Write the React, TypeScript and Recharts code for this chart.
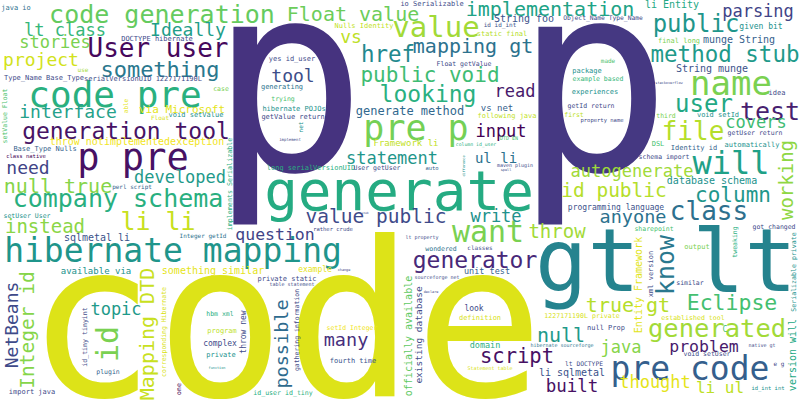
import { ScatterChart, Scatter, XAxis, YAxis } from 'recharts'

// word cloud: [text, x, y, weight(font px), colour]
// horizontal words: x = centre, y = baseline
type Word = [string, number, number, number, string]

const giantWords: Word[] = [
  ['code', 285, 396, 215, '#dde318'],
  ['p', 288, 170, 262, '#46337f'],
  ['p', 593, 170, 262, '#453882'],
  ['gt lt', 666, 291, 87, '#25838e'],
  ['generate', 399, 210, 56, '#25ab82'],
]

const largeWords: Word[] = [
  ['hibernate mapping', 173, 262, 33, '#1f958b'],
  ['code pre', 115, 107, 36, '#2ab07f'],
  ['p pre', 133, 170, 37, '#471164'],
  ['pre p', 416, 140, 35, '#74d055'],
  ['pre code', 690, 380, 33, '#355f8d'],
  ['name', 731, 95, 34, '#7ad151'],
  ['will', 731, 174, 32, '#1fa187'],
  ['want', 488, 242, 30, '#7ad151'],
  ['value', 436, 37, 29, '#a2da37'],
  ['User user', 158, 57, 26, '#46085c'],
  ['class', 709, 220, 26, '#2d708e'],
  ['file', 693, 140, 26, '#b5de2b'],
  ['generated', 717, 337, 25.5, '#a2da37'],
  ['company schema', 118, 207, 25, '#29af7f'],
  ['code generation', 162, 23, 25, '#65cb5e'],
  ['li li', 158, 230, 25, '#c8e020'],
  ['test', 770, 120, 25, '#481f70'],
]

const mediumWords: Word[] = [
  ['public', 696, 32, 24, '#1f968b'],
  ['user', 704, 112, 24, '#22a884'],
  ['looking', 428, 102, 23, '#2ab07f'],
  ['generator', 475, 268, 23, '#482878'],
  ['method stub', 725, 62, 22.5, '#1f9a8a'],
  ['href', 388, 62, 22.5, '#23898e'],
  ['generation tool', 126, 139, 23, '#471365'],
  ['something', 160, 77, 22, '#2a788e'],
  ['Eclipse', 732, 310, 21.5, '#44bf70'],
  ['public void', 430, 82, 21, '#3fbc73'],
  ['column', 733, 202, 21, '#1f978b'],
  ['Float value', 353, 21, 20, '#6ccd5a'],
  ['implementation', 550, 16, 20, '#20a386'],
  ['mapping gt', 473, 53, 20, '#2c728e'],
  ['null true', 58, 193, 20, '#86d549'],
  ['null', 561, 342, 20, '#1f9a8a'],
  ['script', 517, 363, 20.5, '#471164'],
  ['true gt', 628, 312, 20, '#b5de2b'],
  ['id public', 614, 197, 19.5, '#b5de2b'],
  ['value public', 376, 223, 19.5, '#3e4a89'],
  ['instead', 45, 233, 19, '#8bd646'],
  ['throw', 557, 238, 19, '#a2da37'],
  ['Ideally', 188, 36, 18, '#1f9e89'],
  ['project', 41, 66, 18, '#d2e21b'],
  ['interface', 68, 118, 18, '#25a18a'],
  ['vs', 351, 43, 18, '#bddf26'],
  ['tool', 293, 82, 18, '#3d4e8a'],
  ['anyone', 633, 223, 18.5, '#2c728e'],
  ['many', 346, 346, 18.5, '#472f7d'],
  ['need', 28, 174, 18, '#414487'],
  ['lt class', 65, 36, 17, '#35b779'],
  ['stories', 55, 48, 17, '#7ad151'],
  ['read', 515, 97, 17, '#481a6c'],
  ['input', 501, 137, 17, '#440154'],
  ['developed', 180, 183, 17, '#1f9a8a'],
  ['statement', 392, 164, 17, '#1f968b'],
  ['autogenerate', 632, 177, 17, '#9fda3a'],
  ['write', 496, 222, 17, '#21918c'],
  ['topic', 116, 315, 17, '#1f9a8a'],
  ['covers', 756, 128, 17, '#3fbc73'],
  ['parsing', 758, 17, 17, '#414487'],
  ['java', 621, 353, 17, '#86d549'],
  ['problem', 704, 352, 16.5, '#481a6c'],
  ['thought', 655, 388, 17, '#e5e419'],
  ['li ul', 720, 393, 16, '#bddf26'],
  ['built', 572, 392, 17.5, '#471164'],
  ['question', 275, 240, 16.5, '#414487'],
  ['ul li', 496, 163, 14, '#2c728e'],
]

const smallWords: Word[] = [
  ['generate method', 410, 115, 12, '#31688e'],
  ['via Microsoft', 182, 113, 11, '#e5e419'],
  ['String foo', 524, 22, 10, '#3b528b'],
  ['li Entity', 672, 8, 10, '#22a884'],
  ['munge String', 739, 43, 10, '#355f8d'],
  ['String munge', 712, 72, 10, '#3b528b'],
  ['throw notimplementedexception', 137, 145, 10, '#f1e51d'],
  ['sqlmetal li', 97, 241, 10, '#3b528b'],
  ['database schema', 712, 184, 10, '#21918c'],
  ['something similar', 213, 274, 10, '#e5e419'],
  ['li sqlmetal', 572, 376, 10, '#3b528b'],
  ['vs net', 497, 111, 9, '#355f8d'],
  ['Framework li', 406, 146, 9, '#c2df23'],
  ['available via', 96, 274, 9, '#21918c'],
  ['unit test', 487, 274, 8.5, '#355f8d'],
  ['domain', 485, 348, 8.5, '#29af7f'],
  ['given bit', 761, 29, 8, '#21918c'],
  ['programming language', 616, 210, 8, '#3b528b'],
  ['example', 315, 272, 8, '#e5e419'],
  ['complex', 220, 346, 8, '#3e4a89'],
  ['look', 474, 311, 8, '#3e4a89'],
  ['C', 725, 332, 8, '#44bf70'],
]

const tinyWords: Word[] = [
  ['java io', 16, 10, 7, '#2c728e'],
  ['DOCTYPE hibernate', 157, 41, 7, '#3e4a89'],
  ['use', 83, 72, 6, '#a2da37'],
  ['Type_Name Base_Type', 44, 80, 7, '#3e4a89'],
  ['serialVersionUID 1227171190L', 143, 81, 7, '#3e4a89'],
  ['Float', 160, 120, 6, '#d8e219'],
  ['void setValue', 196, 117, 7, '#21918c'],
  ['Nulls Identity', 364, 28, 7, '#c2df23'],
  ['yes id_user', 292, 61, 7, '#3e4a89'],
  ['case', 221, 91, 6.5, '#7ad151'],
  ['generating', 282, 89, 7, '#2c728e'],
  ['trying', 283, 101, 6.5, '#4ac16d'],
  ['hibernate POJOs', 294, 111, 7, '#21918c'],
  ['getValue return', 293, 119, 7, '#3e4a89'],
  ['io Serializable', 432, 6, 7, '#3e4a89'],
  ['Object_Name Type_Name', 603, 20, 6.3, '#3e4a89'],
  ['id id_int', 500, 27, 6, '#3b528b'],
  ['static final', 502, 36, 7, '#b5de2b'],
  ['Float getValue', 464, 66, 6.5, '#3e4a89'],
  ['package', 587, 73, 7, '#21918c'],
  ['example based', 598, 81, 6.5, '#35b779'],
  ['experiences', 595, 94, 7, '#21918c'],
  ['getId return', 591, 108, 6.5, '#3e4a89'],
  ['following java', 507, 118, 7, '#c2df23'],
  ['first', 574, 117, 6.5, '#bddf26'],
  ['property name', 602, 122, 5.5, '#3e4a89'],
  ['final long', 679, 43, 7, '#7ad151'],
  ['made', 608, 63, 6, '#4ac16d'],
  ['stackoverflow', 669, 84, 3.5, '#3e4a89'],
  ['idea', 777, 95, 7, '#3e4a89'],
  ['third', 666, 118, 6.5, '#7ad151'],
  ['void setId', 718, 117, 7, '#21918c'],
  ['getUser return', 755, 135, 6.5, '#3e4a89'],
  ['Base_Type Nulls', 45, 151, 7, '#355f8d'],
  ['class native', 26, 158, 5.5, '#440154'],
  ['perl script', 132, 189, 6, '#355f8d'],
  ['setUser User', 27, 218, 6.5, '#21918c'],
  ['Integer getId', 203, 238, 6, '#2c728e'],
  ['implement', 290, 141, 4, '#3e4a89'],
  ['long serialVersionUID', 311, 170, 7, '#29af7f'],
  ['User getUser', 377, 170, 6.5, '#3e4a89'],
  ['rather crude', 333, 231, 5.5, '#3e4a89'],
  ['stub', 365, 214, 3, '#3e4a89'],
  ['DTD EN', 509, 140, 5, '#44bf70'],
  ['column id_user', 476, 146, 4.8, '#29af7f'],
  ['maven plugin', 515, 167, 5, '#3e4a89'],
  ['auto', 432, 170, 5.5, '#355f8d'],
  ['spell', 506, 171, 3.5, '#3e4a89'],
  ['lt property', 422, 239, 5, '#3e4a89'],
  ['wondered', 441, 251, 6.5, '#2c728e'],
  ['classes', 480, 250, 6, '#3e4a89'],
  ['DSL', 658, 146, 7, '#44bf70'],
  ['Identity id', 694, 150, 7, '#355f8d'],
  ['automatically', 752, 147, 7, '#21918c'],
  ['schema import', 664, 159, 6.5, '#3e4a89'],
  ['sharepoint', 654, 231, 6.5, '#44bf70'],
  ['got changed', 774, 229, 6.5, '#3e4a89'],
  ['output', 697, 249, 7, '#7ad151'],
  ['plugin', 108, 374, 6.5, '#355f8d'],
  ['import java', 32, 394, 7, '#3e4a89'],
  ['change', 344, 271, 3.5, '#3e4a89'],
  ['private static', 287, 281, 7, '#3e4a89'],
  ['table statement', 292, 286, 5, '#3e4a89'],
  ['hbm xml', 220, 316, 6.5, '#29af7f'],
  ['program', 222, 333, 7, '#bddf26'],
  ['private', 221, 357, 7, '#21918c'],
  ['function', 217, 369, 3.5, '#21918c'],
  ['setId Integer', 352, 330, 6.5, '#f1e51d'],
  ['fourth time', 353, 363, 7, '#3b528b'],
  ['id_user id_tiny', 283, 395, 6.6, '#29af7f'],
  ['sourceforge net', 437, 279, 5, '#3e4a89'],
  ['declare', 431, 293, 3.5, '#3e4a89'],
  ['definition', 480, 320, 7, '#d8e219'],
  ['1227171190L private', 582, 318, 6.6, '#d8e219'],
  ['hibernate sourceforge', 562, 347, 5, '#2c728e'],
  ['lt DOCTYPE', 584, 366, 6.3, '#3e4a89'],
  ['Statement table', 490, 370, 5, '#d8e219'],
  ['null Prop', 606, 330, 7, '#3e4a89'],
  ['similar', 690, 285, 6.5, '#3e4a89'],
  ['established tool', 693, 320, 6.6, '#d8e219'],
  ['native gt', 762, 347, 5, '#3e4a89'],
  ['void setUser', 707, 356, 6.5, '#3e4a89'],
  ['e g', 779, 366, 6, '#3e4a89'],
  ['id_int int', 768, 390, 5.5, '#21918c'],
]

// vertical words (read bottom to top): x = baseline, y = centre
const verticalWords: Word[] = [
  ['setValue Float', 7, 116, 6.5, '#4ac16d'],
  ['able', 128, 106, 6, '#e5e419'],
  ['net', 303, 127, 6, '#21918c'],
  ['implements Serializable', 232, 184, 6.7, '#29af7f'],
  ['difference', 465, 166, 3.5, '#21918c'],
  ['working', 793, 180, 19, '#8fd744'],
  ['tweaking', 737, 242, 6.5, '#29af7f'],
  ['Serializable private', 796, 272, 6.6, '#21918c'],
  ['Entity Framework', 642, 285, 10, '#e2e418'],
  ['know', 674, 265, 25, '#2a788e'],
  ['xml version', 653, 274, 7, '#3e4a89'],
  ['NetBeans', 18, 325, 18, '#3e4a89'],
  ['Integer id', 34, 330, 19.5, '#86d549'],
  ['id', 118, 344, 30, '#7ad151'],
  ['Mapping DTD', 154, 334, 20, '#c8e020'],
  ['corresponding Hibernate', 166, 332, 6.5, '#d8e219'],
  ['id_tiny tinyint', 87, 337, 6.6, '#3e4a89'],
  ['one', 181, 389, 6.5, '#440154'],
  ['throw new', 246, 332, 8, '#3e4a89'],
  ['possible', 288, 344, 18.5, '#2f6b8e'],
  ['gathering information', 299, 330, 6.5, '#3e4a89'],
  ['officially available', 412, 336, 10, '#5ec962'],
  ['existing database', 422, 335, 9.5, '#3e4a89'],
  ['version will', 796, 355, 10, '#22a884'],
]

const toRows = (list: Word[], rot: number) =>
  list.map(([text, x, y, size, color]) => ({ text, x, y, size, color, rot }))

const data = [
  ...toRows(giantWords, 0),
  ...toRows(largeWords, 0),
  ...toRows(mediumWords, 0),
  ...toRows(smallWords, 0),
  ...toRows(tinyWords, 0),
  ...toRows(verticalWords, -90),
]

const WordShape = (props: any) => {
  const { cx, cy, payload } = props
  return (
    <text
      x={0}
      y={0}
      transform={`translate(${cx},${cy}) rotate(${payload.rot})`}
      textAnchor="middle"
      fontFamily="'DejaVu Sans Mono', monospace"
      fontSize={payload.size}
      fill={payload.color}
    >
      {payload.text}
    </text>
  )
}

export default function App() {
  return (
    <div style={{ position: 'fixed', left: 0, top: 0, width: 800, height: 400, background: '#fff' }}>
      <ScatterChart width={800} height={400} margin={{ top: 0, right: 0, bottom: 0, left: 0 }}>
        <XAxis type="number" dataKey="x" domain={[0, 800]} hide />
        <YAxis type="number" dataKey="y" domain={[0, 400]} reversed hide />
        <Scatter data={data} shape={WordShape} isAnimationActive={false} />
      </ScatterChart>
    </div>
  )
}
